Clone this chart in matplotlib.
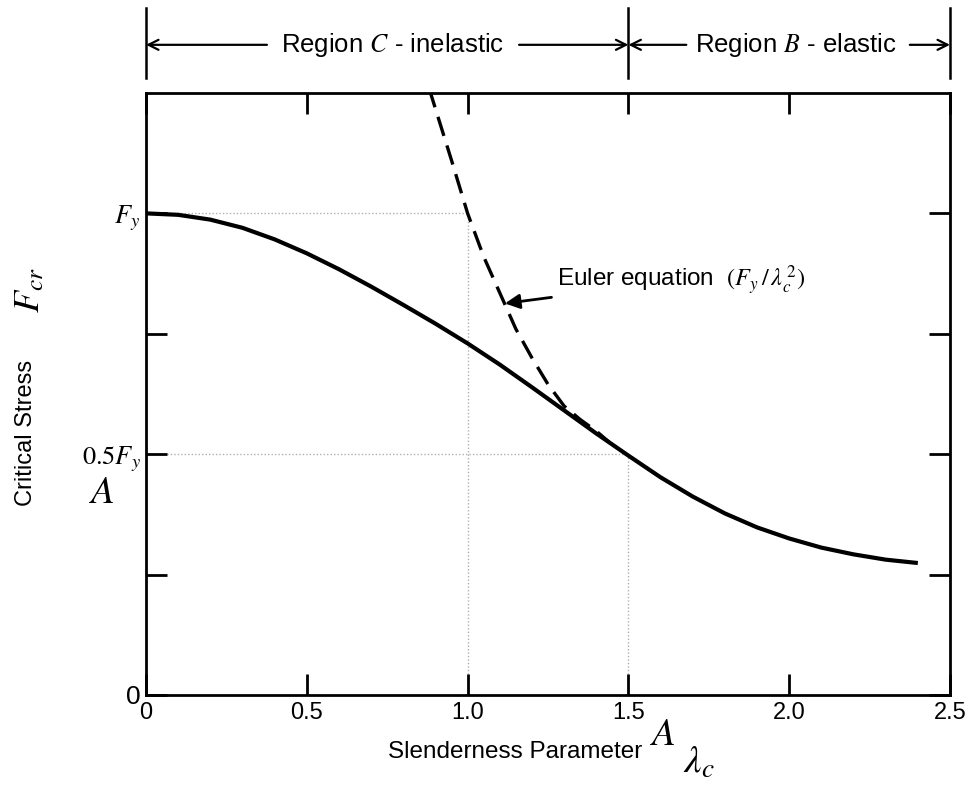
import matplotlib
matplotlib.use("Agg")
import matplotlib.pyplot as plt

plt.rcParams['font.family'] = ['Liberation Sans', 'DejaVu Sans']
plt.rcParams['mathtext.fontset'] = 'stix'

# Column curve: critical stress (fraction of Fy) vs slenderness parameter
lam = [0.0, 0.1, 0.2, 0.3, 0.4, 0.5, 0.6, 0.7, 0.8, 0.9, 1.0, 1.1, 1.2,
       1.3, 1.4, 1.5, 1.6, 1.7, 1.8, 1.9, 2.0, 2.1, 2.2, 2.3, 2.4]
fcr = [1.0, 0.997, 0.987, 0.970, 0.946, 0.917, 0.884, 0.848, 0.810, 0.771,
       0.730, 0.686, 0.639, 0.591, 0.543, 0.497, 0.452, 0.412, 0.377, 0.348,
       0.325, 0.306, 0.292, 0.281, 0.274]

# Euler buckling curve (dashed)
lam_euler = [0.88, 0.95, 1.0, 1.05, 1.1, 1.15, 1.2, 1.25, 1.3, 1.35, 1.4, 1.44]
f_euler = [1.26, 1.11, 1.0, 0.91, 0.835, 0.76, 0.70, 0.645, 0.60, 0.572,
           0.548, 0.525]

x_ticks = [0, 0.5, 1.0, 1.5, 2.0, 2.5]
x_ticklabels = ['0', '0.5', '1.0', '1.5', '2.0', '2.5']
y_ticks = [0, 0.25, 0.5, 0.75, 1.0]
y_ticklabels = ['0', '', r'$0.5F_y$', '', r'$F_y$']

fig = plt.figure(figsize=(9.69, 7.94), dpi=100)
ax = fig.add_axes([0.1507, 0.1247, 0.8297, 0.7582])

ax.set_xlim(0, 2.5)
ax.set_ylim(0, 1.25)

# drop lines to reference points
grid_kw = dict(color='#b0b0b0', lw=1.0, ls=(0, (1, 1.5)), zorder=1)
ax.plot([0, 1.0], [1.0, 1.0], **grid_kw)
ax.plot([1.0, 1.0], [0, 1.0], **grid_kw)
ax.plot([0, 1.5], [0.5, 0.5], **grid_kw)
ax.plot([1.5, 1.5], [0, 0.5], **grid_kw)

ax.plot(lam, fcr, color='black', lw=3.0, solid_capstyle='butt',
        solid_joinstyle='round', zorder=3)
ax.plot(lam_euler, f_euler, color='black', lw=2.4, ls=(0, (6, 3)), zorder=3)

for s in ax.spines.values():
    s.set_linewidth(2.0)

ax.set_xticks(x_ticks)
ax.set_xticklabels(x_ticklabels, fontsize=17)
ax.set_yticks(y_ticks)
ax.set_yticklabels(y_ticklabels, fontsize=19)
ax.tick_params(direction='in', length=15, width=2, top=True, right=True)
ax.tick_params(axis='x', pad=5)
ax.tick_params(axis='y', pad=4)

# Euler annotation
ax.annotate(r'Euler equation  $(F_y\,/\,\lambda_c^{\,2})$', xy=(1.116, 0.813),
            xytext=(1.278, 0.861), fontsize=17.5, va='center', ha='left',
            arrowprops=dict(arrowstyle='-|>', color='black', lw=2.0,
                            mutation_scale=22, shrinkA=2, shrinkB=0))

# axis titles
fig.text(0.027, 0.455, 'Critical Stress', rotation=90, fontsize=17,
         ha='center', va='center')
fig.text(0.031, 0.635, r'$F_{cr}$', rotation=90, fontsize=26,
         ha='center', va='center')
ax.text(1.147, -0.118, 'Slenderness Parameter', fontsize=17.5,
        ha='center', va='center')
ax.text(1.72, -0.14, r'$\lambda_c$', fontsize=28, ha='center', va='center')

# point labels
ax.text(1.607, -0.083, r'$A$', fontsize=28, ha='center', va='center',
        clip_on=False)
ax.text(-0.137, 0.419, r'$A$', fontsize=28, ha='center', va='center',
        clip_on=False)

# region bracket above the plot
yb = 1.080
tr = ax.get_xaxis_transform()
for xv in (0.0, 1.5, 2.5):
    ax.plot([xv, xv], [1.025, 1.141], transform=tr, color='black', lw=1.8,
            clip_on=False)
arr = dict(arrowstyle='->', color='black', lw=1.6, mutation_scale=18,
           shrinkA=0, shrinkB=0)
ax.annotate('', xy=(0.0, yb), xytext=(0.376, yb), xycoords=tr, textcoords=tr,
            arrowprops=arr)
ax.annotate('', xy=(1.5, yb), xytext=(1.16, yb), xycoords=tr, textcoords=tr,
            arrowprops=arr)
ax.annotate('', xy=(1.5, yb), xytext=(1.68, yb), xycoords=tr, textcoords=tr,
            arrowprops=arr)
ax.annotate('', xy=(2.5, yb), xytext=(2.375, yb), xycoords=tr, textcoords=tr,
            arrowprops=arr)
ax.text(0.768, yb, r'Region $C$ - inelastic', transform=tr, fontsize=18.5,
        ha='center', va='center')
ax.text(2.02, yb, r'Region $B$ - elastic', transform=tr, fontsize=18.5,
        ha='center', va='center')

fig.savefig('out.png', dpi=100)
